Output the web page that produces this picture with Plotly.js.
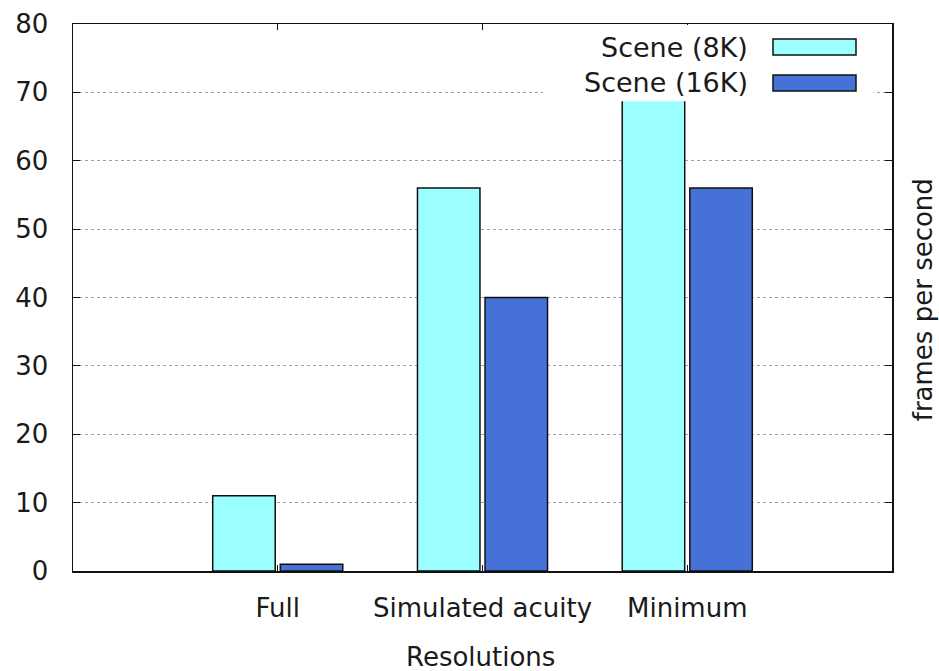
<!DOCTYPE html>
<html>
<head>
<meta charset="utf-8">
<script src="https://cdn.plot.ly/plotly-3.0.1.min.js"></script>
<style>html,body{margin:0;padding:0;background:#fff;}#chart{width:939px;height:671px;}</style>
</head>
<body>
<div id="chart"></div>
<script>
const categories = ["Full", "Simulated acuity", "Minimum"];
const seriesNames = ["Scene (8K)", "Scene (16K)"];
const scene8K = [11, 56, 72];
const scene16K = [1, 40, 56];
const yTicks = [0, 10, 20, 30, 40, 50, 60, 70, 80];
const xTitle = "Resolutions";
const yTitle = "frames per second";

const colors = ["#9bffff", "#4671d6"];
const font = {family: "DejaVu Sans, Verdana, sans-serif", size: 26, color: "#1a1a1a"};
const legendFont = {family: "DejaVu Sans, Verdana, sans-serif", size: 27, color: "#1a1a1a"};

const traces = [scene8K, scene16K].map((vals, i) => ({
  type: "bar",
  name: seriesNames[i],
  x: categories,
  y: vals,
  marker: {color: colors[i], line: {color: "#111", width: 1.5}},
  showlegend: false,
  hoverinfo: "skip"
}));

// manual legend (text right, swatch on right), opaque white box
const shapes = [
  {type: "rect", xref: "paper", yref: "paper", x0: 0.574, x1: 0.977, y0: 0.859, y1: 0.998,
   fillcolor: "#ffffff", line: {width: 0}, layer: "above"}
];
const annotations = [];
const rowCenters = [47, 83]; // px centers of legend rows
rowCenters.forEach((py, i) => {
  const yc = (571 - py) / 547;
  const h = 8 / 547;
  shapes.push({type: "rect", xref: "paper", yref: "paper",
    x0: (773 - 73) / 819, x1: (856 - 73) / 819, y0: yc - h, y1: yc + h,
    fillcolor: colors[i], line: {color: "#111", width: 1.5}, layer: "above"});
  annotations.push({xref: "paper", yref: "paper", x: (750 - 73) / 819, y: yc,
    xanchor: "right", yanchor: "middle", showarrow: false, text: seriesNames[i], font: legendFont});
});
annotations.push({xref: "paper", yref: "paper", x: (923 - 73) / 819, y: 0.495,
  xanchor: "center", yanchor: "middle", textangle: -90, showarrow: false, text: yTitle, font: font});
annotations.push({xref: "paper", yref: "paper", x: 0.497, y: (571 - 657) / 547,
  xanchor: "center", yanchor: "middle", showarrow: false, text: xTitle, font: font});

const layout = {
  width: 939, height: 671,
  margin: {l: 73, r: 47, t: 24, b: 100},
  paper_bgcolor: "#fff", plot_bgcolor: "#fff",
  font: font,
  barmode: "group", bargap: 0.34, bargroupgap: 0.075,
  showlegend: false,
  xaxis: {
    type: "category", range: [-1, 3],
    showline: true, linecolor: "#111", linewidth: 1.5, mirror: "ticks",
    ticks: "inside", ticklen: 6, tickcolor: "#111", tickwidth: 1,
    showgrid: false, zeroline: false, ticklabelstandoff: 13,
    tickfont: font
  },
  yaxis: {
    range: [0, 80], tickvals: yTicks, ticktext: yTicks.map(String),
    showline: true, linecolor: "#111", linewidth: 1.5, mirror: "ticks",
    ticks: "inside", ticklen: 7, tickcolor: "#111", tickwidth: 1,
    showgrid: true, gridcolor: "#a0a0a0", griddash: "dot", gridwidth: 1,
    zeroline: false, ticklabelstandoff: 18, tickfont: font
  },
  shapes: shapes,
  annotations: annotations
};

Plotly.newPlot("chart", traces, layout, {staticPlot: true, displayModeBar: false});
</script>
</body>
</html>
